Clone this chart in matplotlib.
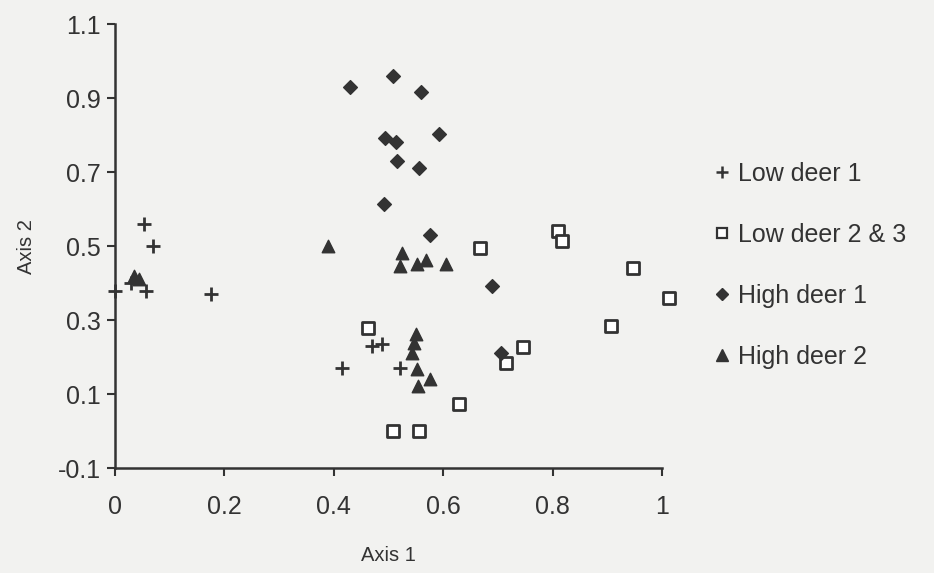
import matplotlib
matplotlib.use("Agg")
import matplotlib.pyplot as plt
from matplotlib.lines import Line2D

# ---- data ----
low1_x = [0.0, 0.053, 0.07, 0.03, 0.057, 0.176, 0.415, 0.47, 0.488, 0.521]
low1_y = [0.38, 0.56, 0.50, 0.40, 0.379, 0.371, 0.17, 0.23, 0.235, 0.17]

low23_x = [0.463, 0.508, 0.556, 0.629, 0.668, 0.714, 0.745, 0.809, 0.818, 0.906, 0.947, 1.013]
low23_y = [0.279, 0.0, 0.0, 0.073, 0.496, 0.184, 0.227, 0.542, 0.515, 0.284, 0.441, 0.36]

high1_x = [0.429, 0.508, 0.56, 0.593, 0.494, 0.514, 0.516, 0.556, 0.492, 0.576, 0.69, 0.705]
high1_y = [0.929, 0.959, 0.916, 0.802, 0.791, 0.78, 0.729, 0.712, 0.615, 0.531, 0.393, 0.211]

high2_x = [0.035, 0.044, 0.389, 0.525, 0.521, 0.552, 0.569, 0.606, 0.55, 0.547, 0.543, 0.552, 0.576, 0.554]
high2_y = [0.42, 0.41, 0.501, 0.482, 0.447, 0.452, 0.463, 0.452, 0.263, 0.238, 0.211, 0.168, 0.141, 0.122]

series_labels = ["Low deer 1", "Low deer 2 & 3", "High deer 1", "High deer 2"]
x_ticks = [0, 0.2, 0.4, 0.6, 0.8, 1]
x_tick_labels = ["0", "0.2", "0.4", "0.6", "0.8", "1"]
y_ticks = [-0.1, 0.1, 0.3, 0.5, 0.7, 0.9, 1.1]
y_tick_labels = ["-0.1", "0.1", "0.3", "0.5", "0.7", "0.9", "1.1"]

# ---- style ----
plt.rcParams['font.family'] = ['Liberation Sans', 'DejaVu Sans']
bg = '#f2f2f0'
ink = '#333333'

fig = plt.figure(figsize=(9.34, 5.73), dpi=100, facecolor=bg)
ax = fig.add_axes([0.1231, 0.183, 0.5857, 0.775], facecolor=bg)

ax.scatter(low1_x, low1_y, marker='+', s=10**2, color=ink, linewidths=2.0, zorder=3, clip_on=False)
ax.scatter(low23_x, low23_y, marker='s', s=8.5**2, facecolors='white', edgecolors=ink,
           linewidths=2.0, zorder=3, clip_on=False)
ax.scatter(high1_x, high1_y, marker='D', s=7**2, color=ink, zorder=3, clip_on=False)
ax.scatter(high2_x, high2_y, marker='^', s=9**2, color=ink, zorder=3, clip_on=False)

ax.set_xlim(0, 1)
ax.set_ylim(-0.1, 1.1)
ax.set_xticks(x_ticks)
ax.set_xticklabels(x_tick_labels)
ax.set_yticks(y_ticks)
ax.set_yticklabels(y_tick_labels)
ax.tick_params(axis='both', direction='out', length=6, width=1.5, colors=ink,
               labelsize=18, labelcolor=ink)
ax.tick_params(axis='x', pad=13)
ax.tick_params(axis='y', pad=4)

for side in ['top', 'right']:
    ax.spines[side].set_visible(False)
for side in ['left', 'bottom']:
    ax.spines[side].set_linewidth(1.8)
    ax.spines[side].set_color(ink)

ax.set_xlabel("Axis 1", fontsize=14.5, color=ink, labelpad=20)
ax.set_ylabel("Axis 2", fontsize=14.5, color=ink, labelpad=16)

handles = [
    Line2D([], [], marker='+', linestyle='none', color=ink, markersize=9, markeredgewidth=1.8),
    Line2D([], [], marker='s', linestyle='none', markerfacecolor='white', markeredgecolor=ink,
           markersize=7, markeredgewidth=1.6),
    Line2D([], [], marker='D', linestyle='none', color=ink, markersize=6),
    Line2D([], [], marker='^', linestyle='none', color=ink, markersize=8),
]
fig.legend(handles, series_labels, loc='upper left', bbox_to_anchor=(0.765, 0.717),
           frameon=False, fontsize=18, labelcolor=ink, handlelength=0.6,
           handletextpad=0.35, labelspacing=1.48, borderpad=0, borderaxespad=0)

fig.savefig("out.png", dpi=100, facecolor=bg)
